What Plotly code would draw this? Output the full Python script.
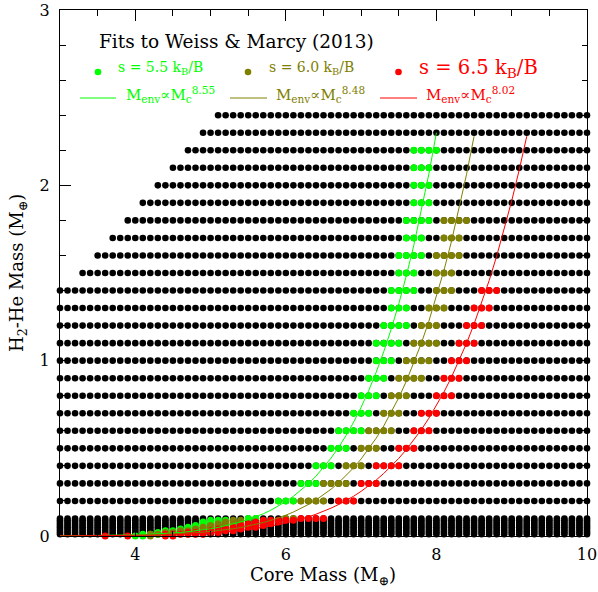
import numpy as np
import plotly.graph_objects as go

# ---------------- data ----------------
core_mass = [3.0, 3.1, 3.2, 3.3, 3.4, 3.5, 3.6, 3.7, 3.8, 3.9,
             4.0, 4.1, 4.2, 4.3, 4.4, 4.5, 4.6, 4.7, 4.8, 4.9,
             5.0, 5.1, 5.2, 5.3, 5.4, 5.5, 5.6, 5.7, 5.8, 5.9,
             6.0, 6.1, 6.2, 6.3, 6.4, 6.5, 6.6, 6.7, 6.8, 6.9,
             7.0, 7.1, 7.2, 7.3, 7.4, 7.5, 7.6, 7.7, 7.8, 7.9,
             8.0, 8.1, 8.2, 8.3, 8.4, 8.5, 8.6, 8.7, 8.8, 8.9,
             9.0, 9.1, 9.2, 9.3, 9.4, 9.5, 9.6, 9.7, 9.8, 9.9, 10.0]

env_rows = [0.01, 0.02, 0.03, 0.04, 0.05, 0.06, 0.07, 0.08, 0.09,
            0.1, 0.2, 0.3, 0.4, 0.5, 0.6, 0.7, 0.8, 0.9, 1.0,
            1.1, 1.2, 1.3, 1.4, 1.5, 1.6, 1.7, 1.8, 1.9, 2.0,
            2.1, 2.2, 2.3, 2.4]
row_min_core = [3.0] * 23 + [3.3, 3.5, 3.7, 3.9, 4.1, 4.3, 4.5, 4.7, 4.9, 5.1]

# matched models (s = 5.5, 6.0, 6.5 kB/baryon) on the regular rows
green_rows = [2.2, 2.1, 2.0, 1.9, 1.8, 1.7, 1.6, 1.5, 1.4, 1.3, 1.2, 1.1,
              1.0, 0.9, 0.8, 0.7, 0.6, 0.5, 0.4, 0.3, 0.2, 0.1]
green_cores = [[7.7, 7.8, 7.9, 8.0], [7.7, 7.8, 7.9], [7.7, 7.8, 7.9], [7.7, 7.8, 7.9],
               [7.6, 7.7, 7.8, 7.9], [7.6, 7.7, 7.8], [7.5, 7.6, 7.7, 7.8], [7.5, 7.6, 7.7],
               [7.4, 7.5, 7.6, 7.7], [7.4, 7.5, 7.6], [7.3, 7.4, 7.5, 7.6], [7.2, 7.3, 7.4, 7.5],
               [7.2, 7.3, 7.4], [7.1, 7.2, 7.3], [7.0, 7.1, 7.2], [6.9, 7.0, 7.1],
               [6.7, 6.8, 6.9, 7.0], [6.6, 6.7, 6.8], [6.4, 6.5, 6.6], [6.2, 6.3, 6.4],
               [5.9, 6.0, 6.1], [5.5, 5.6]]

olive_rows = [1.8, 1.7, 1.6, 1.5, 1.4, 1.3, 1.2, 1.1, 1.0, 0.9, 0.8, 0.7,
              0.6, 0.5, 0.4, 0.3, 0.2, 0.1]
olive_cores = [[8.1, 8.2, 8.3, 8.4], [8.1, 8.2, 8.3], [8.0, 8.1, 8.2, 8.3], [8.0, 8.1, 8.2],
               [8.0, 8.1, 8.2], [7.9, 8.0, 8.1], [7.8, 7.9, 8.0], [7.7, 7.8, 7.9, 8.0],
               [7.6, 7.7, 7.8, 7.9], [7.5, 7.6, 7.7, 7.8], [7.4, 7.5, 7.6], [7.3, 7.4, 7.5],
               [7.1, 7.2, 7.3, 7.4], [7.0, 7.1, 7.2], [6.8, 6.9, 7.0], [6.5, 6.6, 6.7, 6.8],
               [6.2, 6.3, 6.4, 6.5], [6.0, 6.1]]

red_rows = [1.4, 1.3, 1.2, 1.1, 1.0, 0.9, 0.8, 0.7, 0.6, 0.5, 0.4, 0.3, 0.2, 0.1]
red_cores = [[8.6, 8.7, 8.8], [8.5, 8.6, 8.7], [8.4, 8.5, 8.6], [8.3, 8.4, 8.5],
             [8.2, 8.3, 8.4], [8.1, 8.2, 8.3], [8.0, 8.1, 8.2], [7.8, 7.9, 8.0],
             [7.7, 7.8, 7.9], [7.5, 7.6, 7.7], [7.2, 7.3, 7.4, 7.5], [7.0, 7.1, 7.2],
             [6.7, 6.8, 6.9], [6.2, 6.3, 6.4, 6.5]]

# matched models among the low-envelope rows (core, lowest and highest envelope)
green_dense_core = [4.0, 4.1, 4.2, 4.3, 4.4, 4.5, 4.6, 4.7, 4.8, 4.9, 5.0, 5.1, 5.2]
green_dense_lo = [0.0, 0.0, 0.01, 0.01, 0.02, 0.02, 0.03, 0.04, 0.05, 0.06, 0.07, 0.08, 0.09]
green_dense_hi = [0.0, 0.01, 0.01, 0.02, 0.03, 0.03, 0.04, 0.05, 0.06, 0.08, 0.09, 0.09, 0.09]

olive_dense_core = [4.2, 4.3, 4.4, 4.5, 4.6, 4.7, 4.8, 4.9, 5.0, 5.1, 5.2, 5.3, 5.4]
olive_dense_lo = [0.0, 0.01, 0.01, 0.01, 0.02, 0.02, 0.03, 0.03, 0.04, 0.05, 0.06, 0.07, 0.08]
olive_dense_hi = [0.01, 0.01, 0.02, 0.02, 0.03, 0.03, 0.04, 0.05, 0.06, 0.07, 0.08, 0.09, 0.09]

red_dense_core = [3.6, 3.9, 4.4, 4.5, 4.6, 4.7, 4.8, 4.9, 5.0, 5.1, 5.2, 5.3, 5.4,
                  5.5, 5.6, 5.7, 5.8, 5.9, 6.0, 6.1]
red_dense_lo = [0.0, 0.0, 0.0, 0.0, 0.01, 0.01, 0.01, 0.01, 0.02, 0.02, 0.03, 0.03, 0.04,
                0.05, 0.05, 0.06, 0.07, 0.08, 0.09, 0.09]
red_dense_hi = [0.0, 0.0, 0.01, 0.01, 0.01, 0.02, 0.02, 0.02, 0.03, 0.04, 0.04, 0.05, 0.06,
                0.07, 0.08, 0.09, 0.09, 0.09, 0.09, 0.09]

# power-law fits M_env ∝ M_c^p, anchored at their upper end
fit_exponent = [8.55, 8.48, 8.02]
fit_end_core = [8.0, 8.5, 9.2]
fit_end_env = [2.3, 2.28, 2.28]

series_labels = ["s = 5.5 k<sub>B</sub>/B", "s = 6.0 k<sub>B</sub>/B", "s = 6.5 k<sub>B</sub>/B"]
exp_labels = ["8.55", "8.48", "8.02"]
colors = ["#00ff00", "#808000", "#ff0000"]

# ---------------- build ----------------
gx, gy = [], []
for y, cmin in zip(env_rows, row_min_core):
    for c in core_mass:
        if c >= cmin - 1e-9:
            gx.append(c)
            gy.append(y)


def expand(rows, cores, dcore, dlo, dhi):
    xs, ys = [], []
    for y, cs in zip(rows, cores):
        for c in cs:
            xs.append(c)
            ys.append(y)
    for c, lo, hi in zip(dcore, dlo, dhi):
        k = lo
        while k <= hi + 1e-9:
            xs.append(c)
            ys.append(round(k, 3))
            k += 0.01
    return xs, ys


sets = [
    expand(green_rows, green_cores, green_dense_core, green_dense_lo, green_dense_hi),
    expand(olive_rows, olive_cores, olive_dense_core, olive_dense_lo, olive_dense_hi),
    expand(red_rows, red_cores, red_dense_core, red_dense_lo, red_dense_hi),
]

fig = go.Figure()
fig.add_trace(go.Scatter(x=gx, y=gy, mode="markers", cliponaxis=False,
                         marker=dict(size=6.6, color="black", line=dict(width=0)),
                         showlegend=False, hoverinfo="skip"))
for (xs, ys), col in zip(sets, colors):
    fig.add_trace(go.Scatter(x=xs, y=ys, mode="markers", cliponaxis=False,
                             marker=dict(size=7, color=col, line=dict(width=0)),
                             showlegend=False, hoverinfo="skip"))

for p, xe, ye, col in zip(fit_exponent, fit_end_core, fit_end_env, colors):
    lx = np.array([c for c in core_mass if c < xe] + [xe])
    ly = ye * (lx / xe) ** p
    fig.add_trace(go.Scatter(x=lx, y=ly, mode="lines", line=dict(color=col, width=1),
                             showlegend=False, hoverinfo="skip"))

# ---------------- layout ----------------
FONT = "DejaVu Serif"
L, R, T, B = 60, 11, 10, 56
W, H = 598, 592


def px2x(px):
    return 3 + (px - L) / (W - L - R) * 7


def py2y(py):
    return (H - B - py) / (H - T - B) * 3


ann = []
ann.append(dict(x=px2x(97), y=py2y(41), text="Fits to Weiss &amp; Marcy (2013)",
                font=dict(family=FONT, size=18.5, color="black")))
dot_px = [98, 248, 398.5]
txt_px = [116, 267, 417]
txt_size = [14, 14, 19.5]
line_px = [(80, 116), (230, 267), (380, 417)]
mtxt_px = [124, 274, 424]
shapes = []
for i in range(3):
    ann.append(dict(x=px2x(txt_px[i]), y=py2y(68), text=series_labels[i],
                    font=dict(family=FONT, size=txt_size[i], color=colors[i])))
    ann.append(dict(x=px2x(mtxt_px[i]), y=py2y(94),
                    text="M<sub>env</sub>∝M<sub>c</sub><sup>" + exp_labels[i] + "</sup>",
                    font=dict(family=FONT, size=15, color=colors[i])))
    shapes.append(dict(type="circle", xref="x", yref="y", xsizemode="pixel", ysizemode="pixel",
                       xanchor=px2x(dot_px[i]), yanchor=py2y(72), x0=-3.3, x1=3.3, y0=-3.3, y1=3.3,
                       fillcolor=colors[i], line=dict(width=0)))
    shapes.append(dict(type="line", xref="x", yref="y",
                       x0=px2x(line_px[i][0]), x1=px2x(line_px[i][1]),
                       y0=py2y(98), y1=py2y(98), line=dict(color=colors[i], width=1)))
for a in ann:
    a.update(xref="x", yref="y", xanchor="left", yanchor="middle", showarrow=False)

ann.append(dict(xref="paper", yref="paper", x=(323 - L) / (W - L - R), y=(536 - 576) / (H - T - B),
                xanchor="center", yanchor="middle", showarrow=False,
                text="Core Mass (M<sub>⊕</sub>)", font=dict(family=FONT, size=18, color="black")))
ann.append(dict(xref="paper", yref="paper", x=(18 - L) / (W - L - R), y=0.5,
                xanchor="center", yanchor="middle", showarrow=False, textangle=-90,
                text="H<sub>2</sub>-He Mass (M<sub>⊕</sub>)", font=dict(family=FONT, size=18, color="black")))

axis_common = dict(showline=True, linecolor="black", linewidth=1, mirror="allticks",
                   ticks="inside", tickcolor="black", tickwidth=1, ticklen=11,
                   showgrid=False, zeroline=False, automargin=False,
                   tickfont=dict(family=FONT, size=16, color="black"))
fig.update_layout(
    width=W, height=H, margin=dict(l=L, r=R, t=T, b=B, autoexpand=False),
    paper_bgcolor="white", plot_bgcolor="white",
    xaxis=dict(range=[3, 10], tick0=0, dtick=2,
               minor=dict(dtick=0.5, ticks="inside", ticklen=5.5, tickcolor="black", showgrid=False),
               ticklabelstandoff=4, **axis_common),
    yaxis=dict(range=[0, 3], tick0=0, dtick=1,
               minor=dict(dtick=0.2, ticks="inside", ticklen=5.5, tickcolor="black", showgrid=False),
               ticklabelstandoff=6, **axis_common),
    annotations=ann, shapes=shapes, showlegend=False,
)

fig.write_html("out.html", config={"displayModeBar": False},
               post_script="document.body.style.margin='0';")
